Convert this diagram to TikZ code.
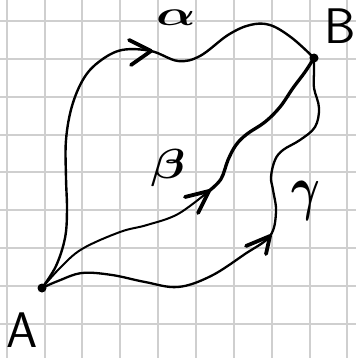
\documentclass[tikz,border=0pt]{standalone}
\usetikzlibrary{calc}
\begin{document}
\begin{tikzpicture}[x=1pt,y=-1pt,
  gridline/.style={draw=black!19,line width=2pt},
  curve/.style={draw=black,line width=2.4pt,line cap=round,line join=round},
  chev/.style={draw=black,line width=3.8pt,line cap=round,line join=round},
  dot/.style={circle,fill=black,inner sep=0pt,minimum size=9pt},
  lbl/.style={inner sep=0pt,text=black}]
\useasboundingbox (0,0) rectangle (356,358);
\fill[white] (0,0) rectangle (356,358);
% grid
\foreach \k in {0,...,9} \draw[gridline] ({6.7+37.85*\k},0) -- ({6.7+37.85*\k},358);
\foreach \k in {0,...,8} \draw[gridline] (0,{21+37.87*\k}) -- (356,{21+37.87*\k});
% end points
\node[dot] (A) at (42,288) {};
\node[dot] (B) at (314,58) {};
% alpha
\draw[curve] plot[smooth,tension=0.6] coordinates {(A.center) (56,266) (65,238) (67,210) (66,178) (66,140) (72,106) (84,78) (100,61) (122,50) (151,51) (178,61) (200,56) (228,35) (250,25) (270,25) (292,38) (B.center)};
% beta
\draw[curve,line width=2pt] plot[smooth,tension=0.6] coordinates {(A.center) (60,268) (82,249) (120,232) (147,225) (178,214) (209,191)};
\draw[curve,line width=3.3pt] plot[smooth,tension=0.6] coordinates {(209,191) (221,179) (228,160) (236,145) (247,134) (265,122) (280,107) (293,88) (305,72) (B.center)};
% gamma
\draw[curve,line width=2.3pt] plot[smooth,tension=0.6] coordinates {(A.center) (58,281) (82,273) (112,275) (145,282) (178,287) (211,276) (245,254) (270,236) (276,212) (273,190) (271,177) (275,160) (283,150) (300,140) (315,127) (319,108) (314,88) (314,72) (B.center)};
% arrow heads
\draw[chev] (129,40) -- (151,51) -- (131,65);
\draw[chev] (185,197) -- (209,191) -- (198,213);
\draw[chev] (246,246) -- (270,236) -- (266,254);
% labels
\node[lbl] (la) at (176,18) {\scalebox{5.2}[3.5]{\boldmath$\alpha$}};
\node[lbl] (lb) at (168,168) {\scalebox{5}[4.2]{\boldmath$\beta$}};
\node[lbl] (lg) at (306,201) {\scalebox{4.4}[6.1]{\boldmath$\gamma$}};
\node[lbl] (lA) at (22,330) {\fontsize{50}{50}\selectfont\sffamily A};
\node[lbl] (lB) at (340,26) {\fontsize{50}{50}\selectfont\sffamily B};
\end{tikzpicture}
\end{document}
